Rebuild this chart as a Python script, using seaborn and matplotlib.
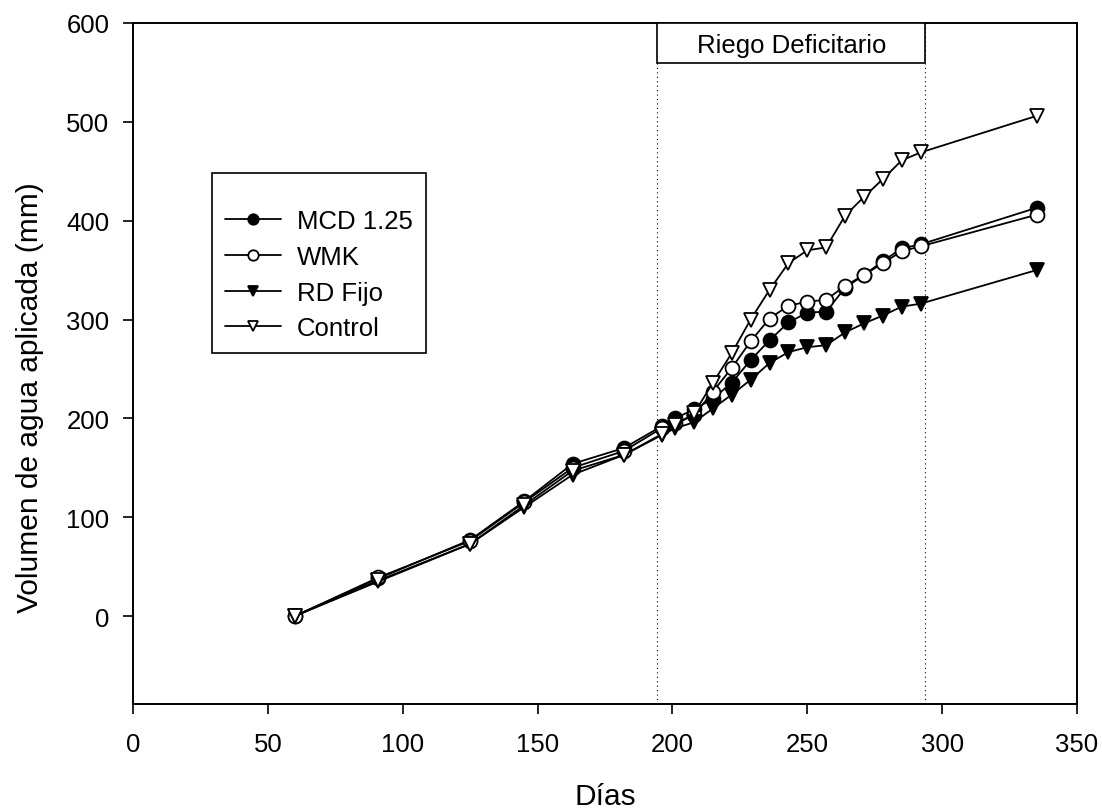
import matplotlib
matplotlib.use("Agg")
import matplotlib.pyplot as plt
import seaborn as sns
import pandas as pd
from matplotlib.patches import Rectangle

# days after start
dias = [60, 91, 125, 145, 163, 182, 196, 201, 208, 215, 222, 229, 236,
        243, 250, 257, 264, 271, 278, 285, 292, 335]

mcd = [0, 38, 77, 116, 154, 170, 192, 200, 209, 220, 236, 259, 279,
       297, 307, 308, 332, 345, 359, 372, 376, 413]
wmk = [0, 39, 76, 115, 150, 167, 190, 195, 203, 227, 251, 278, 301,
       314, 318, 320, 334, 345, 357, 369, 374, 406]
rd_fijo = [0, 35, 73, 110, 143, 163, 183, 190, 196, 210, 224, 239, 256,
           267, 272, 274, 287, 296, 304, 313, 316, 350]
control = [0, 36, 73, 112, 147, 163, 184, 193, 205, 236, 266, 300, 330,
           357, 370, 373, 405, 424, 442, 461, 469, 506]

series = ["MCD 1.25", "WMK", "RD Fijo", "Control"]
marcadores = ["o", "o", "v", "v"]
relleno = ["black", "white", "black", "white"]

# periodo de riego deficitario
rd_ini, rd_fin = 194.3, 293.8

df = pd.DataFrame({"Dias": dias, "MCD 1.25": mcd, "WMK": wmk,
                   "RD Fijo": rd_fijo, "Control": control})

sns.set_style("ticks")
plt.rcParams["font.family"] = ["Liberation Sans", "DejaVu Sans"]
plt.rcParams["text.color"] = "black"
plt.rcParams["axes.labelcolor"] = "black"
plt.rcParams["xtick.color"] = "black"
plt.rcParams["ytick.color"] = "black"

fig = plt.figure(figsize=(11.02, 8.12), dpi=100)
ax = fig.add_axes([133 / 1102, 1 - 705 / 812, (1077 - 133) / 1102, (705 - 24) / 812])

for s, m, fc in zip(series, marcadores, relleno):
    sns.lineplot(data=df, x="Dias", y=s, ax=ax, label=s, color="black",
                 marker=m, markersize=10, markerfacecolor=fc,
                 markeredgecolor="black", markeredgewidth=1.3, linewidth=1.3)

ax.axvline(rd_ini, color="black", lw=0.8, ls=(0, (1, 3)), zorder=1)
ax.axvline(rd_fin, color="black", lw=0.8, ls=(0, (1, 3)), zorder=1)
ax.add_patch(Rectangle((rd_ini, 560), rd_fin - rd_ini, 40, facecolor="white",
                       edgecolor="black", lw=1.2, zorder=3))
ax.text((rd_ini + rd_fin) / 2, 578, "Riego Deficitario", ha="center",
        va="center", fontsize=18.5, zorder=4)

ax.set_xlim(0, 350)
ax.set_ylim(-89, 600)
ax.set_xticks(range(0, 351, 50))
ax.set_yticks(range(0, 601, 100))
ax.tick_params(axis="both", direction="out", length=7, width=1.2,
               labelsize=18.5, color="black", labelcolor="black")
ax.tick_params(axis="x", pad=13)
ax.tick_params(axis="y", pad=10)
for sp in ax.spines.values():
    sp.set_linewidth(1.4)
    sp.set_color("black")

ax.set_xlabel("Días", fontsize=21.5, labelpad=19)
ax.set_ylabel("Volumen de agua aplicada (mm)", fontsize=21.5)
ax.yaxis.set_label_coords(-0.094, 0.452)

leg = ax.legend(loc="upper left", bbox_to_anchor=(79 / 944, (705 - 174) / 681),
                fontsize=18.5, frameon=True, fancybox=False, shadow=False,
                handlelength=2.2, handletextpad=0.6, labelspacing=0.45,
                borderpad=0.5, borderaxespad=0, markerscale=0.75,
                title=" ", title_fontsize=9)
leg.get_frame().set_edgecolor("black")
leg.get_frame().set_linewidth(1.2)
leg.get_frame().set_alpha(1)

fig.savefig("out.png", dpi=100)
